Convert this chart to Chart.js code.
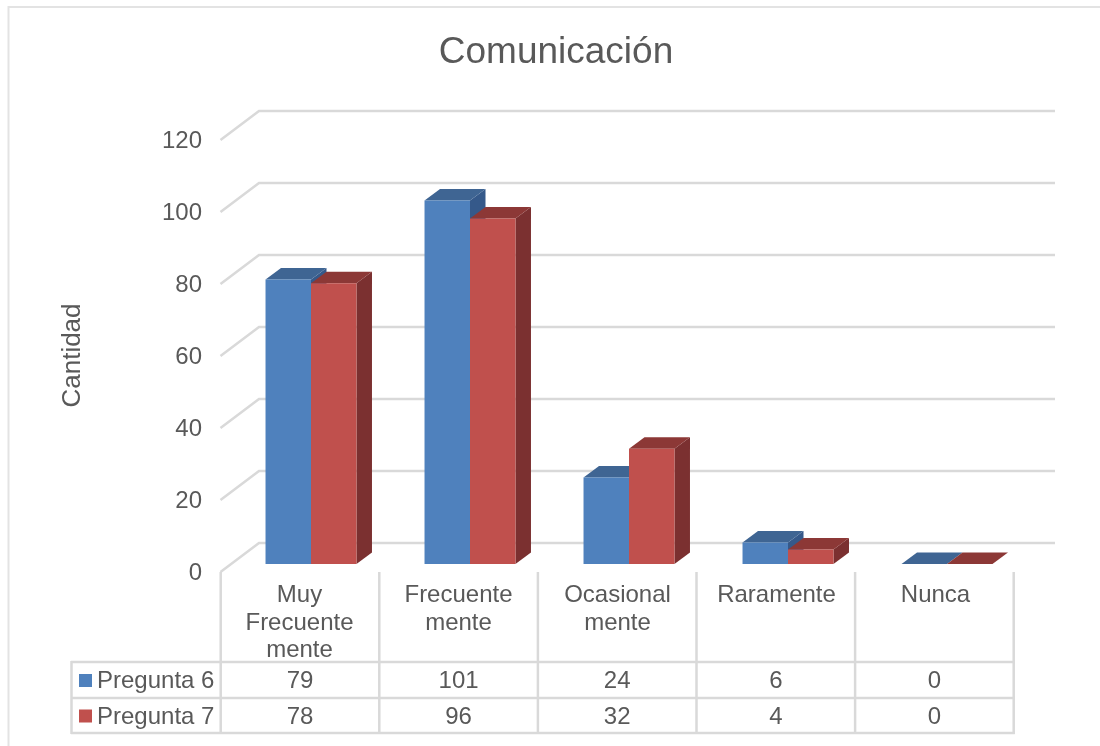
<!DOCTYPE html>
<html>
<head>
<meta charset="utf-8">
<title>Comunicación</title>
<script src="https://cdn.jsdelivr.net/npm/chart.js@4"></script>
<style>
    html, body { margin: 0; padding: 0; background: #ffffff; }
    #box { width: 1100px; height: 746px; }
</style>
</head>
<body>
<div id="box"><canvas id="chart" width="1100" height="746"></canvas></div>
<script>
const categories = [["Muy", "Frecuente", "mente"], ["Frecuente", "mente"], ["Ocasional", "mente"], ["Raramente"], ["Nunca"]];
const pregunta6 = [79, 101, 24, 6, 0];
const pregunta7 = [78, 96, 32, 4, 0];
const seriesNames = ["Pregunta 6", "Pregunta 7"];
const yMax = 120;
const yStep = 20;

const textColor = "#595959";
const gridColor = "#d9d9d9";
const fontName = "'Liberation Sans', Arial, sans-serif";
const frontColors = ["#4f81bd", "#c0504d"];
const topColors = ["#3f6593", "#8c3836"];
const sideColors = ["#35598a", "#7b3030"];

// offsets of the fake 3d box, measured from the plane the bars stand on
const depthX = 15.5;
const depthY = 11.5;

function polygon(ctx, points, color) {
    ctx.fillStyle = color;
    ctx.beginPath();
    ctx.moveTo(points[0][0], points[0][1]);
    for (let i = 1; i < points.length; i++) {
        ctx.lineTo(points[i][0], points[i][1]);
    }
    ctx.closePath();
    ctx.fill();
}

function line(ctx, x1, y1, x2, y2) {
    ctx.beginPath();
    ctx.moveTo(x1, y1);
    ctx.lineTo(x2, y2);
    ctx.stroke();
}

// grid on the walls and the depth faces of the bars, under the native bars
const depthPlugin = {
    id: "depth",
    beforeDatasetsDraw(chart) {
        const ctx = chart.ctx;
        const y = chart.scales.y;
        ctx.save();
        ctx.strokeStyle = gridColor;
        ctx.lineWidth = 2.5;
        for (let v = 0; v <= yMax; v += yStep) {
            let p = y.getPixelForValue(v);
            ctx.beginPath();
            ctx.moveTo(220.5, p + 8);
            ctx.lineTo(259, p - 21);
            ctx.lineTo(1055, p - 21);
            ctx.stroke();
        }
        chart.data.datasets.forEach((ds, d) => {
            chart.getDatasetMeta(d).data.forEach((bar) => {
                let l = bar.x - bar.width / 2;
                let r = bar.x + bar.width / 2;
                let t = bar.y;
                let b = bar.base;
                polygon(ctx, [[r, t], [r + depthX, t - depthY], [r + depthX, b - depthY], [r, b]], sideColors[d]);
                polygon(ctx, [[l, t], [l + depthX, t - depthY], [r + depthX, t - depthY], [r, t]], topColors[d]);
            });
        });
        ctx.restore();
    }
};

// frame, axis title and the data table under the plot
const tablePlugin = {
    id: "table",
    afterDraw(chart) {
        const ctx = chart.ctx;
        const cellLeft = 220.7;
        const cellWidth = 158.6;
        const rows = [662, 698, 733];
        const cellRight = cellLeft + cellWidth * categories.length;
        const values = [pregunta6, pregunta7];
        ctx.save();

        ctx.strokeStyle = "#e3e3e3";
        ctx.lineWidth = 2;
        line(ctx, 8.5, 7, 1100, 7);
        line(ctx, 8.5, 6, 8.5, 746);

        ctx.strokeStyle = gridColor;
        ctx.lineWidth = 2.5;
        for (let i = 0; i <= categories.length; i++) {
            line(ctx, cellLeft + i * cellWidth, 572, cellLeft + i * cellWidth, 734);
        }
        line(ctx, 71.5, 661, 71.5, 734);
        for (let r = 0; r < rows.length; r++) {
            line(ctx, 71, rows[r], cellRight + 1, rows[r]);
        }

        ctx.font = "24px " + fontName;
        ctx.fillStyle = textColor;
        ctx.textBaseline = "middle";
        for (let s = 0; s < values.length; s++) {
            let mid = (rows[s] + rows[s + 1]) / 2 + 1.5;
            ctx.fillStyle = frontColors[s];
            ctx.fillRect(79, mid - 7.5, 13, 13);
            ctx.fillStyle = textColor;
            ctx.textAlign = "left";
            ctx.fillText(seriesNames[s], 97, mid);
            ctx.textAlign = "center";
            for (let i = 0; i < values[s].length; i++) {
                ctx.fillText(String(values[s][i]), cellLeft + (i + 0.5) * cellWidth, mid);
            }
        }

        ctx.font = "26px " + fontName;
        ctx.translate(73, 355.5);
        ctx.rotate(-Math.PI / 2);
        ctx.textAlign = "center";
        ctx.fillText("Cantidad", 0, 0);
        ctx.restore();
    }
};

new Chart("chart", {
    type: "bar",
    data: {
        labels: categories,
        datasets: [
            { label: seriesNames[0], data: pregunta6, backgroundColor: frontColors[0], barPercentage: 1, categoryPercentage: 0.572 },
            { label: seriesNames[1], data: pregunta7, backgroundColor: frontColors[1], barPercentage: 1, categoryPercentage: 0.572 },
        ]
    },
    options: {
        responsive: false,
        animation: false,
        layout: { padding: { left: 12, right: 0, top: 0, bottom: 0 } },
        plugins: {
            legend: { display: false },
            tooltip: { enabled: false },
            title: {
                display: true,
                text: "Comunicación",
                color: textColor,
                font: { family: fontName, size: 37, weight: "normal", lineHeight: 1.2 },
                padding: { top: 30.8, bottom: 56.8 }
            }
        },
        scales: {
            x: {
                grid: { display: false },
                border: { display: false },
                afterFit(scale) { scale.height = 182; },
                ticks: {
                    color: textColor,
                    font: { family: fontName, size: 24, lineHeight: 1.146 },
                    maxRotation: 0,
                    autoSkip: false,
                    padding: 10,
                    labelOffset: -11.5
                }
            },
            y: {
                min: 0,
                max: yMax,
                grid: { display: false, drawTicks: false },
                border: { display: false },
                afterFit(scale) { scale.width = 219.5; },
                ticks: {
                    stepSize: yStep,
                    color: textColor,
                    font: { family: fontName, size: 24 },
                    padding: 29.5,
                    labelOffset: 9
                }
            },
            // empty axis, only keeps the plot clear of the right edge so the title stays centred
            spare: {
                type: "linear",
                position: "right",
                grid: { display: false, drawTicks: false },
                border: { display: false },
                ticks: { display: false },
                afterFit(scale) { scale.width = 73.5; }
            }
        }
    },
    plugins: [depthPlugin, tablePlugin]
});
</script>
</body>
</html>
